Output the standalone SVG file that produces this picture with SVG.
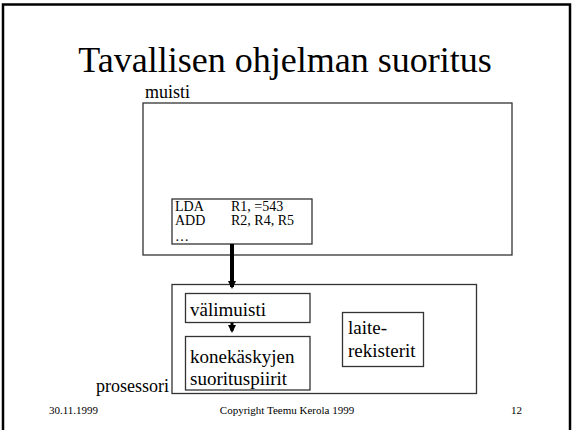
<svg xmlns="http://www.w3.org/2000/svg" width="572" height="430" viewBox="0 0 572 430">
<style>
text{font-family:"Liberation Serif","Times New Roman",serif;fill:#000}
.box{fill:#fff;stroke:#333;stroke-width:1.3}
.lbl{font-size:19px}
.code{font-size:14px}
.foot{font-size:11px}
</style>
<defs>
<marker id="ah" markerWidth="8" markerHeight="8" refX="6" refY="4" orient="auto" markerUnits="userSpaceOnUse">
<path d="M0,0 L8,4 L0,8 Z" fill="#000"/>
</marker>
</defs>
<rect x="0" y="0" width="572" height="430" fill="#fff"/>
<rect x="3" y="4.5" width="567" height="440" fill="none" stroke="#000" stroke-width="2.5"/>
<text x="285" y="72" font-size="36" text-anchor="middle">Tavallisen ohjelman suoritus</text>
<g id="muisti">
<text x="145" y="98" font-size="18">muisti</text>
<rect class="box" x="143" y="103" width="369" height="152"/>
</g>
<g id="ohjelma">
<rect class="box" x="172" y="199" width="140" height="45"/>
<text x="175" y="210.5" class="code">LDA</text>
<text x="231" y="210.5" class="code">R1, =543</text>
<text x="175" y="225" class="code">ADD</text>
<text x="231" y="225" class="code">R2, R4, R5</text>
<text x="175" y="240.5" class="code">…</text>
</g>
<g id="prosessori">
<text x="96" y="391.5" font-size="18">prosessori</text>
<rect class="box" x="172" y="284.5" width="304.5" height="109"/>
</g>
<g id="valimuisti">
<rect class="box" x="185.5" y="293.5" width="124.5" height="29"/>
<text x="190" y="316" class="lbl">välimuisti</text>
</g>
<g id="suoritus">
<rect class="box" x="185.5" y="336.5" width="124.5" height="53.5"/>
<text x="190" y="362.5" class="lbl">konekäskyjen</text>
<text x="190" y="385" class="lbl">suorituspiirit</text>
</g>
<g id="laite">
<rect class="box" x="342.5" y="312.5" width="81" height="54"/>
<text x="348" y="334" class="lbl">laite-</text>
<text x="348" y="357" class="lbl">rekisterit</text>
</g>
<g id="connectors">
<line x1="232" y1="244" x2="232" y2="287" stroke="#000" stroke-width="4" marker-end="url(#ah)"/>
<line x1="232" y1="322.5" x2="232" y2="331" stroke="#000" stroke-width="3" marker-end="url(#ah)"/>
</g>
<g id="footer">
<text x="49" y="414" class="foot">30.11.1999</text>
<text x="287" y="414" class="foot" text-anchor="middle">Copyright Teemu Kerola 1999</text>
<text x="511" y="414" class="foot">12</text>
</g>
</svg>
